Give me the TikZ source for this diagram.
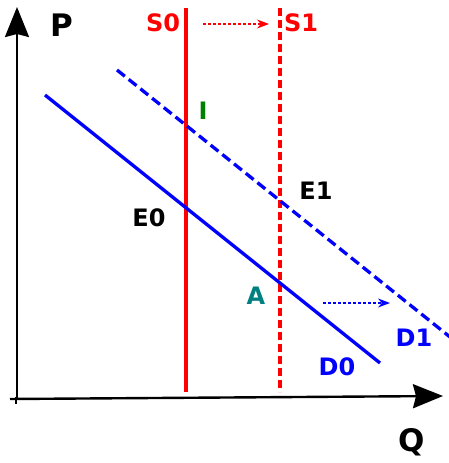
\documentclass[tikz,border=0pt]{standalone}
\usepackage{fontspec}
\setmainfont{DejaVu Sans}
\usetikzlibrary{arrows.meta}
\definecolor{dgreen}{RGB}{0,128,0}
\definecolor{dteal}{RGB}{0,128,128}
\tikzset{
  axis/.style={line width=2.4pt,-{Stealth[length=30pt,width=24pt,inset=3pt]}},
  supply/.style={red,line width=3.3pt},
  demand/.style={blue,line width=3.3pt},
  dashsupply/.style={supply,dash pattern=on 8pt off 4pt},
  dashdemand/.style={demand,dash pattern=on 10pt off 5pt},
  shift arrow/.style={line width=1.1pt,dash pattern=on 3pt off 2pt,-{Stealth[length=12pt,width=9pt]}},
  lbl/.style={font=\bfseries\fontsize{24}{24}\selectfont,inner sep=0pt},
  biglbl/.style={font=\bfseries\fontsize{31}{31}\selectfont,inner sep=0pt}
}
\begin{document}
\begin{tikzpicture}[x=1pt,y=-1pt]
\useasboundingbox (0,0) rectangle (449,463);
% axes
\coordinate (o) at (17,400);
\coordinate (ptop) at (17,7);
\coordinate (oq) at (10,399);
\coordinate (qend) at (443,396);
\draw[axis] (o) -- (ptop);
\draw[axis] (oq) -- (qend);
\coordinate (tk1) at (16,397);
\coordinate (tk2) at (16,404);
\draw[line width=2.4pt] (tk1) -- (tk2);
% supply
\coordinate (s0t) at (186,8);
\coordinate (s0b) at (186,392);
\coordinate (s1t) at (280,8);
\coordinate (s1b) at (280,392);
\draw[supply] (s0t) -- (s0b);
\draw[dashsupply] (s1t) -- (s1b);
% demand
\coordinate (d0a) at (45,95);
\coordinate (d0b) at (380,363);
\coordinate (d1a) at (117,70);
\coordinate (d1b) at (450,337);
\draw[demand] (d0a) -- (d0b);
\draw[dashdemand] (d1a) -- (d1b);
% shift arrows
\coordinate (sa1) at (203,24);
\coordinate (sa2) at (269,24);
\draw[red,shift arrow] (sa1) -- (sa2);
\coordinate (da1) at (323,303);
\coordinate (da2) at (390,303);
\draw[blue,shift arrow] (da1) -- (da2);
% labels
\node[biglbl] (P) at (62,25) {P};
\node[biglbl] (Q) at (412,442) {Q};
\node[lbl,red] (S0) at (163,23) {S0};
\node[lbl,red] (S1) at (301,23) {S1};
\node[lbl,dgreen] (I) at (203,111) {I};
\node[lbl] (E0) at (149,218) {E0};
\node[lbl] (E1) at (316,191) {E1};
\node[lbl,dteal] (A) at (256,296) {A};
\node[lbl,blue] (D0) at (337,367) {D0};
\node[lbl,blue] (D1) at (414,338) {D1};
\end{tikzpicture}
\end{document}
